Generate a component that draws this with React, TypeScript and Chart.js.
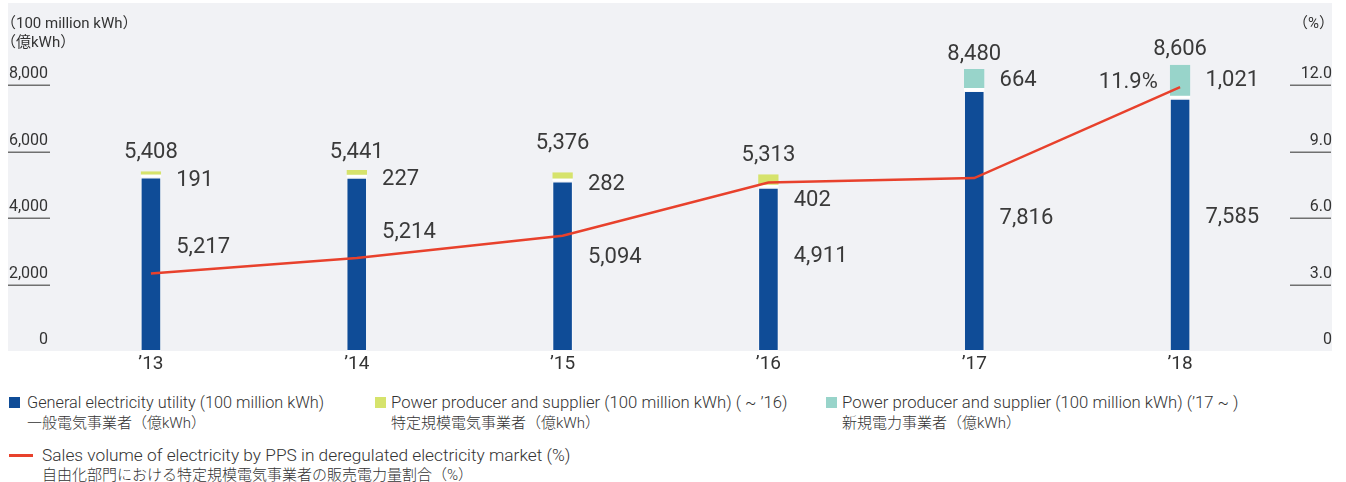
import React, { useEffect, useRef } from 'react';
import { Chart, registerables } from 'chart.js';

Chart.register(...registerables);

// ---- data ----
const years = ['’13', '’14', '’15', '’16', '’17', '’18'];
const generalUtility = [5217, 5214, 5094, 4911, 7816, 7585];
const ppsUntil16: (number | null)[] = [191, 227, 282, 402, null, null];
const ppsFrom17: (number | null)[] = [null, null, null, null, 664, 1021];
const ppsShare = [3.5, 4.2, 5.2, 7.6, 7.8, 11.9];
const leftTicks = [0, 2000, 4000, 6000, 8000];
const rightTicks = [0, 3, 6, 9, 12];

// ---- label layout nudges (px) ----
const totalLift = [19, 18, 29, 19, 15, 15];
const topShift = [6, 6, 8, 19, 0, -1];
const baseShift = [-17, -32, -9, -13, -3, -7];

const BLUE = '#0f4c97';
const YELLOW = '#d6e36c';
const TEAL = '#98d4ca';
const RED = '#e8412c';
const TEXT = '#3a3a3a';
const FONT = "Roboto, 'Noto Sans CJK JP', sans-serif";

const panelPlugin = {
  id: 'panel',
  beforeDraw(chart: any) {
    const { ctx, chartArea } = chart;
    ctx.save();
    ctx.fillStyle = '#f1f2f5';
    ctx.fillRect(8, 3, 1324, chartArea.bottom - 3);
    ctx.restore();
  },
  afterDraw(chart: any) {
    const { ctx } = chart;
    const yS = chart.scales.y;
    const y1S = chart.scales.y1;
    ctx.save();
    ctx.lineWidth = 1.5;
    ctx.strokeStyle = '#707070';
    leftTicks.forEach((v) => {
      if (v === 0) return;
      const py = Math.round(yS.getPixelForValue(v)) + 0.25;
      ctx.beginPath();
      ctx.moveTo(8, py);
      ctx.lineTo(50, py);
      ctx.stroke();
    });
    rightTicks.forEach((v) => {
      if (v === 0) return;
      const py = Math.round(y1S.getPixelForValue(v)) + 0.25;
      ctx.beginPath();
      ctx.moveTo(1290, py);
      ctx.lineTo(1331, py);
      ctx.stroke();
    });
    ctx.fillStyle = '#333';
    ctx.font = `15px ${FONT}`;
    ctx.textBaseline = 'middle';
    ctx.textAlign = 'left';
    ctx.fillText('（100 million kWh）', 1, 24);
    ctx.fillText('（億kWh）', 1, 43);
    ctx.textAlign = 'right';
    ctx.fillText('（%）', 1334, 24);
    ctx.restore();
  },
};

const labelPlugin = {
  id: 'valueLabels',
  afterDatasetsDraw(chart: any) {
    const { ctx } = chart;
    const baseMeta = chart.getDatasetMeta(1);
    const m16 = chart.getDatasetMeta(2);
    const m17 = chart.getDatasetMeta(3);
    const lineMeta = chart.getDatasetMeta(0);
    ctx.save();
    ctx.fillStyle = TEXT;
    ctx.font = `22px ${FONT}`;
    ctx.textBaseline = 'middle';
    years.forEach((_, i) => {
      const blue = baseMeta.data[i] as any;
      const topVal = ppsUntil16[i] != null ? ppsUntil16[i] : ppsFrom17[i];
      const topEl = (ppsUntil16[i] != null ? m16.data[i] : m17.data[i]) as any;
      const total = generalUtility[i] + (topVal || 0);
      const half = blue.width / 2;
      ctx.textAlign = 'center';
      ctx.fillText(total.toLocaleString('en-US'), blue.x, topEl.y - totalLift[i]);
      ctx.textAlign = 'left';
      ctx.fillText(
        (topVal as number).toLocaleString('en-US'),
        blue.x + half + 15,
        (topEl.y + topEl.base) / 2 + topShift[i]
      );
      ctx.fillText(
        generalUtility[i].toLocaleString('en-US'),
        blue.x + half + 15,
        (blue.y + blue.base) / 2 + baseShift[i]
      );
    });
    const last = ppsShare.length - 1;
    const pt = lineMeta.data[last] as any;
    const lb = baseMeta.data[last] as any;
    ctx.textAlign = 'right';
    ctx.fillText(`${ppsShare[last].toFixed(1)}%`, lb.x - lb.width / 2 - 12, pt.y - 5);
    ctx.restore();
  },
};

export default function App() {
  const ref = useRef<HTMLCanvasElement>(null);

  useEffect(() => {
    if (!ref.current) return;
    const chart = new Chart(ref.current, {
      type: 'bar',
      data: {
        labels: years,
        datasets: [
          {
            type: 'line',
            label: 'Sales volume of electricity by PPS in deregulated electricity market (%)',
            data: ppsShare,
            yAxisID: 'y1',
            borderColor: RED,
            borderWidth: 2.5,
            pointRadius: 0,
            tension: 0,
            order: 0,
          } as any,
          {
            label: 'General electricity utility (100 million kWh)',
            data: generalUtility,
            yAxisID: 'y',
            backgroundColor: BLUE,
            borderColor: 'rgba(255,255,255,0.55)',
            borderWidth: 1,
            borderSkipped: false,
            order: 1,
          },
          {
            label: 'Power producer and supplier (100 million kWh) ( ~ ’16)',
            data: ppsUntil16,
            yAxisID: 'y',
            backgroundColor: YELLOW,
            borderColor: '#ffffff',
            borderWidth: { top: 0, left: 0, right: 0, bottom: 3 },
            borderSkipped: false,
            order: 1,
          },
          {
            label: 'Power producer and supplier (100 million kWh) (’17 ~ )',
            data: ppsFrom17,
            yAxisID: 'y',
            backgroundColor: TEAL,
            borderColor: '#ffffff',
            borderWidth: { top: 0, left: 0, right: 0, bottom: 3 },
            borderSkipped: false,
            order: 1,
          },
        ],
      },
      options: {
        responsive: false,
        animation: false,
        devicePixelRatio: 1,
        layout: { padding: { left: 8, right: 14, top: 18.5, bottom: 0 } },
        datasets: { bar: { barPercentage: 0.1, categoryPercentage: 1 } },
        plugins: { legend: { display: false }, tooltip: { enabled: false } },
        scales: {
          x: {
            stacked: true,
            grid: { display: false, drawTicks: false },
            border: { display: false },
            ticks: { color: '#333', font: { family: FONT, size: 19 }, padding: 2 },
            afterFit: (s: any) => { s.height = 29; },
          },
          y: {
            position: 'left',
            stacked: true,
            min: 0,
            max: 10000,
            afterBuildTicks: (s: any) => { s.ticks = leftTicks.map((v) => ({ value: v })); },
            afterFit: (s: any) => { s.width = 40; },
            border: { display: false },
            grid: { display: false, drawTicks: false },
            ticks: {
              crossAlign: 'near',
              padding: 0,
              labelOffset: -11,
              color: '#333',
              font: { family: FONT, size: 16 },
              callback: (v: any) => (v === 0 ? '0' : Number(v).toLocaleString('en-US')),
            },
          },
          y1: {
            position: 'right',
            min: 0,
            max: 15,
            afterBuildTicks: (s: any) => { s.ticks = rightTicks.map((v) => ({ value: v })); },
            afterFit: (s: any) => { s.width = 49; },
            border: { display: false },
            grid: { display: false, drawTicks: false },
            ticks: {
              crossAlign: 'far',
              padding: 0,
              labelOffset: -11,
              color: '#333',
              font: { family: FONT, size: 16 },
              callback: (v: any) => (v === 0 ? '0' : Number(v).toFixed(1)),
            },
          },
        },
      } as any,
      plugins: [panelPlugin, labelPlugin],
    });
    return () => chart.destroy();
  }, []);

  const legendText = (size: number): React.CSSProperties => ({
    position: 'absolute',
    fontFamily: FONT,
    fontSize: size,
    fontWeight: 300,
    lineHeight: '20px',
    color: '#333',
    whiteSpace: 'nowrap',
  });
  const jp: React.CSSProperties = { fontSize: 15 };
  const sq = (left: number, color: string): React.CSSProperties => ({
    position: 'absolute',
    left,
    top: 397,
    width: 11,
    height: 11,
    background: color,
  });

  return (
    <div style={{ position: 'absolute', left: 0, top: 0, width: 1346, height: 482, background: '#fff' }}>
      <canvas ref={ref} width={1346} height={380} style={{ position: 'absolute', left: 0, top: 0 }} />
      <div style={sq(9, BLUE)} />
      <div style={{ ...legendText(16.3), left: 27, top: 393 }}>
        General electricity utility (100 million kWh)<br /><span style={jp}>一般電気事業者（億kWh）</span>
      </div>
      <div style={sq(375, YELLOW)} />
      <div style={{ ...legendText(16.7), left: 391, top: 393 }}>
        Power producer and supplier (100 million kWh) ( ~ ’16)<br /><span style={jp}>特定規模電気事業者（億kWh）</span>
      </div>
      <div style={sq(826, TEAL)} />
      <div style={{ ...legendText(16.7), left: 842, top: 393 }}>
        Power producer and supplier (100 million kWh) (’17 ~ )<br /><span style={jp}>新規電力事業者（億kWh）</span>
      </div>
      <div style={{ position: 'absolute', left: 9, top: 454, width: 24, height: 2.5, background: RED }} />
      <div style={{ ...legendText(17.3), left: 42, top: 446, lineHeight: '19px' }}>
        Sales volume of electricity by PPS in deregulated electricity market (%)<br /><span style={jp}>自由化部門における特定規模電気事業者の販売電力量割合（%）</span>
      </div>
    </div>
  );
}
